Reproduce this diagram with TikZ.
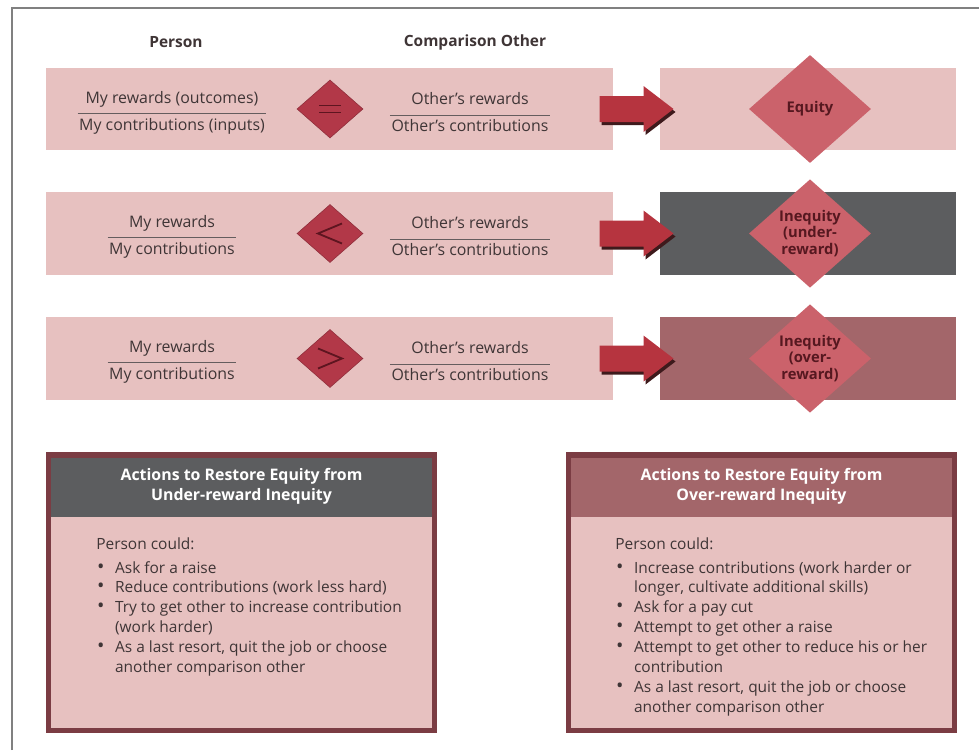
\documentclass[tikz,border=0pt]{standalone}
\usepackage{fontspec}
\setmainfont{Open Sans}
\usepackage{tikz}
\usetikzlibrary{shapes.geometric,positioning,calc}

\definecolor{bandpink}{HTML}{E7C1C0}
\definecolor{darkband}{HTML}{5C5D5F}
\definecolor{overband}{HTML}{A3666A}
\definecolor{symred}{HTML}{B23848}
\definecolor{symdark}{HTML}{5E1520}
\definecolor{bigdia}{HTML}{CB626B}
\definecolor{arrowred}{HTML}{B6343F}
\definecolor{arrowshade}{HTML}{3E1A1C}
\definecolor{txtgray}{HTML}{3F3536}
\definecolor{boxline}{HTML}{7B3C43}
\definecolor{diatext}{HTML}{561820}

\newcommand{\bitem}{\hspace*{0.02cm}\makebox[0.45cm][l]{\fontsize{14}{14}\selectfont\textbullet}}
\newcommand{\bcont}{\hspace*{0.47cm}}

\begin{document}
\begin{tikzpicture}[x=0.025cm,y=-0.025cm,
  head/.style={text=txtgray,font=\bfseries\fontsize{11}{13}\selectfont},
  band/.style={fill=bandpink,minimum width=14.175cm,minimum height=2.05cm,inner sep=0},
  result/.style={minimum width=7.4cm,minimum height=2.05cm,inner sep=0},
  txt/.style={text=txtgray,font=\fontsize{11.3}{13}\selectfont,inner xsep=1pt,inner ysep=3pt},
  fracline/.style={draw=txtgray!80,line width=0.6pt},
  sign/.style={diamond,fill=symred,draw=symred!80!black,minimum width=1.65cm,minimum height=1.45cm,inner sep=0},
  signline/.style={draw=symdark,line width=1.3pt},
  verdict/.style={diamond,fill=bigdia,minimum width=3.05cm,minimum height=2.7cm,inner sep=0,text=diatext,align=center,font=\bfseries\fontsize{10.5}{11.8}\selectfont},
  pics/blockarr/.style={code={
    \fill[arrowshade,shift={(2,3)}] (-37,-13) -- (7,-13) -- (7,-23) -- (37,0) -- (7,23) -- (7,13) -- (-37,13) -- cycle;
    \fill[arrowred] (-37,-13) -- (7,-13) -- (7,-23) -- (37,0) -- (7,23) -- (7,13) -- (-37,13) -- cycle;}},
  actbox/.style={fill=bandpink,minimum width=9.625cm,minimum height=6.875cm,inner sep=0},
  acthead/.style={anchor=north,minimum width=9.625cm,minimum height=1.55cm,inner sep=0,text=white,align=center,font=\bfseries\fontsize{11.3}{14.2}\selectfont},
  boxframe/.style={draw=boxline,line width=4pt},
  bodytxt/.style={anchor=north west,align=left,inner sep=0,text=txtgray,font=\fontsize{11}{14.2}\selectfont}]

  \useasboundingbox (0,0) rectangle (979,750);
  \draw[gray,line width=1.4pt] (12,750) -- (12,8) -- (979,8);

  % column headings
  \node[head] (person) at (176,42) {Person};
  \node[head] (other) at (475,42) {Comparison Other};

  % equity row
  \node[band] (l1) at (329.5,109) {};
  \node[result,fill=bandpink] (r1) at (808,109) {};
  \node[txt] (pn1) at (172,99) {My rewards (outcomes)};
  \node[txt] (pd1) at (172,126) {My contributions (inputs)};
  \draw[fracline] (pd1.north west) -- (pd1.north east);
  \node[sign] (s1) at (330,109) {};
  \draw[signline] ($(s1)+(-11,-3.5)$) -- ++(22,0) ($(s1)+(-11,3.5)$) -- ++(22,0);
  \node[txt] (on1) at (470,99) {Other's rewards};
  \node[txt] (od1) at (470,126) {Other's contributions};
  \draw[fracline] (od1.north west) -- (od1.north east);
  \pic (a1) at ($(l1.east)!0.5!(r1.west)$) {blockarr};
  \node[verdict] (v1) at (810,109) {Equity};

  % under-reward row
  \node[band] (l2) at (329.5,233.5) {};
  \node[result,fill=darkband] (r2) at (808,233.5) {};
  \node[txt] (pn2) at (172,223) {My rewards};
  \node[txt] (pd2) at (172,250) {My contributions};
  \draw[fracline] (pd2.north west) -- (pd2.north east);
  \node[sign] (s2) at (330,233.5) {};
  \draw[signline] ($(s2)+(12,-10)$) -- ++(-24,10) -- ++(24,10);
  \node[txt] (on2) at (470,223) {Other's rewards};
  \node[txt] (od2) at (470,250) {Other's contributions};
  \draw[fracline] (od2.north west) -- (od2.north east);
  \pic (a2) at ($(l2.east)!0.5!(r2.west)$) {blockarr};
  \node[verdict] (v2) at (810,233.5) {Inequity\\(under-\\reward)};

  % over-reward row
  \node[band] (l3) at (329.5,358.5) {};
  \node[result,fill=overband] (r3) at (808,358.5) {};
  \node[txt] (pn3) at (172,348) {My rewards};
  \node[txt] (pd3) at (172,375) {My contributions};
  \draw[fracline] (pd3.north west) -- (pd3.north east);
  \node[sign] (s3) at (330,358.5) {};
  \draw[signline] ($(s3)+(-12,-10)$) -- ++(24,10) -- ++(-24,10);
  \node[txt] (on3) at (470,348) {Other's rewards};
  \node[txt] (od3) at (470,375) {Other's contributions};
  \draw[fracline] (od3.north west) -- (od3.north east);
  \pic (a3) at ($(l3.east)!0.5!(r3.west)$) {blockarr};
  \node[verdict] (v3) at (810,358.5) {Inequity\\(over-\\reward)};

  % actions, under-reward
  \node[actbox] (ub) at (241.5,592.5) {};
  \node[acthead,fill=darkband] (uh) at (ub.north) {Actions to Restore Equity from\\Under-reward Inequity};
  \draw[boxframe] (ub.north west) rectangle (ub.south east);
  \node[bodytxt] (ut) at (96,537) {Person could:\\[0.1cm]
    \bitem Ask for a raise\\
    \bitem Reduce contributions (work less hard)\\
    \bitem Try to get other to increase contribution\\
    \bcont(work harder)\\
    \bitem As a last resort, quit the job or choose\\
    \bcont another comparison other};

  % actions, over-reward
  \node[actbox] (ob) at (761.5,592.5) {};
  \node[acthead,fill=overband] (oh) at (ob.north) {Actions to Restore Equity from\\Over-reward Inequity};
  \draw[boxframe] (ob.north west) rectangle (ob.south east);
  \node[bodytxt] (ot) at (615,537) {Person could:\\[0.1cm]
    \bitem Increase contributions (work harder or\\
    \bcont longer, cultivate additional skills)\\
    \bitem Ask for a pay cut\\
    \bitem Attempt to get other a raise\\
    \bitem Attempt to get other to reduce his or her\\
    \bcont contribution\\
    \bitem As a last resort, quit the job or choose\\
    \bcont another comparison other};
\end{tikzpicture}
\end{document}
